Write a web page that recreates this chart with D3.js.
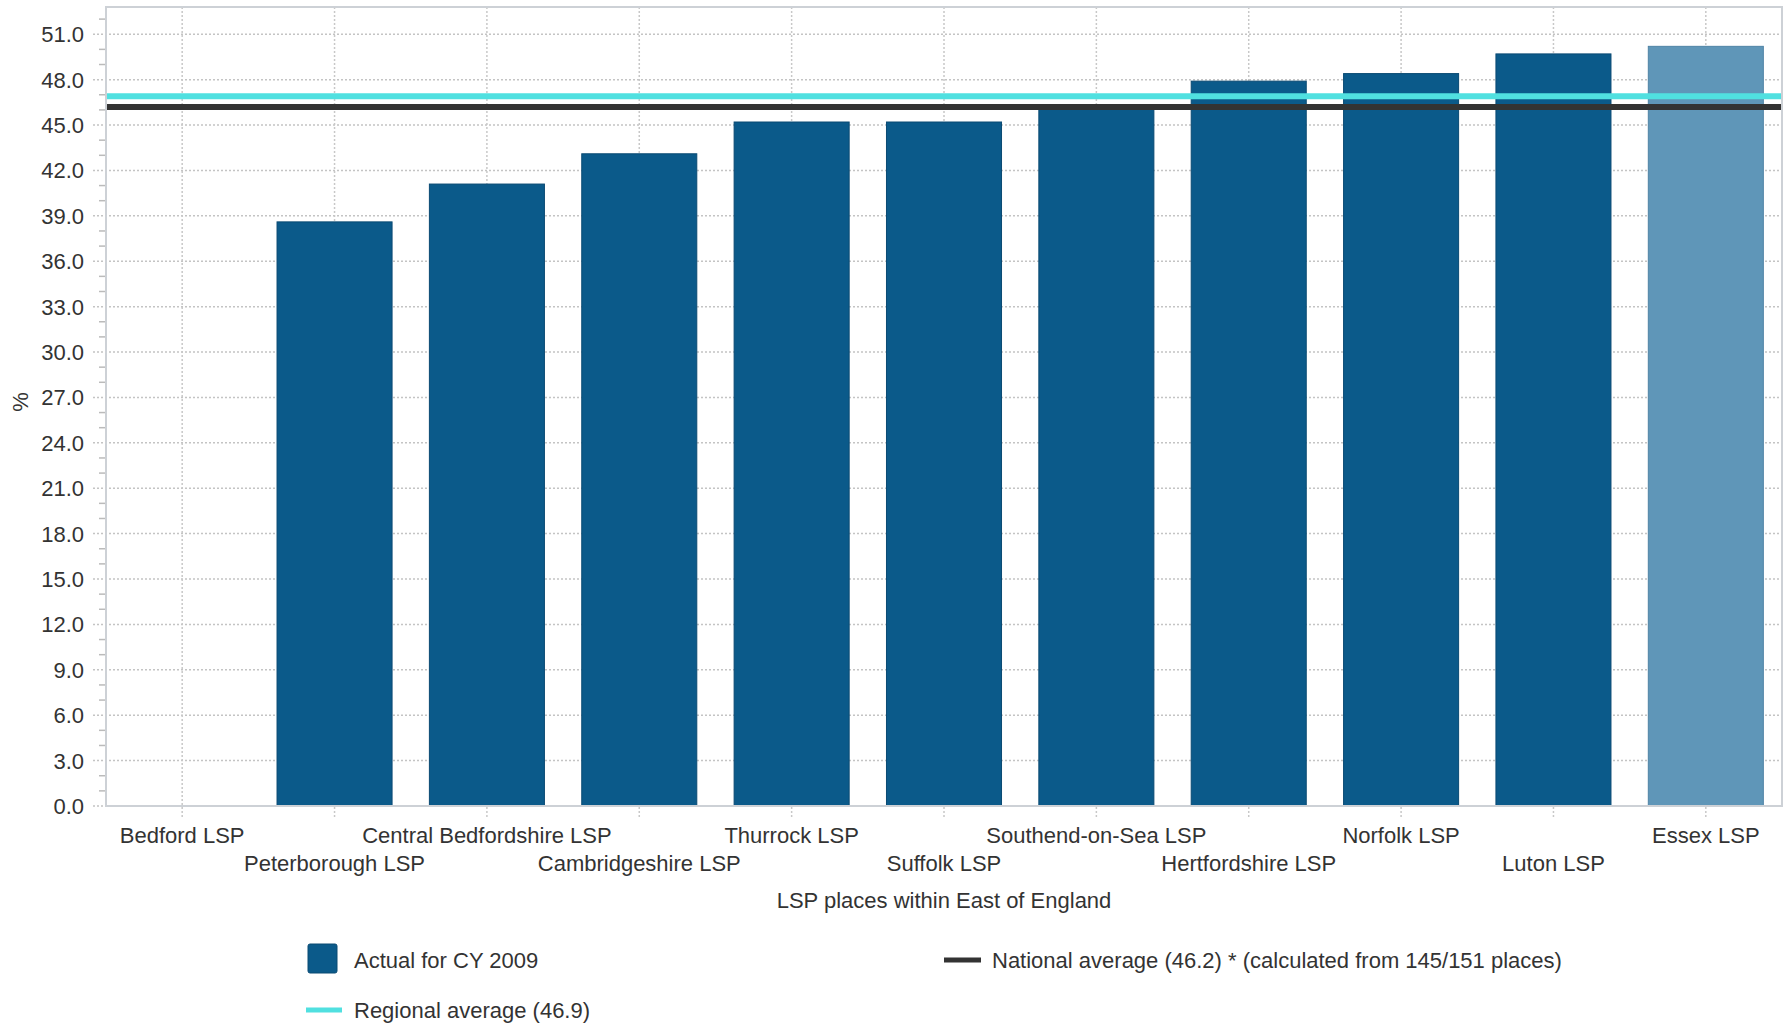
<!DOCTYPE html>
<html>
<head>
<meta charset="utf-8">
<script src="https://cdn.jsdelivr.net/npm/d3@7"></script>
<style>
  html, body { margin: 0; padding: 0; background: #fff; }
  svg { display: block; font-family: "Liberation Sans", Arial, sans-serif; }
</style>
</head>
<body>
<svg id="chart" width="1790" height="1025"></svg>
<script>
// ---- Data ----
const categories = ["Bedford LSP", "Peterborough LSP", "Central Bedfordshire LSP", "Cambridgeshire LSP",
  "Thurrock LSP", "Suffolk LSP", "Southend-on-Sea LSP", "Hertfordshire LSP", "Norfolk LSP", "Luton LSP", "Essex LSP"];
const values = [null, 38.6, 41.1, 43.1, 45.2, 45.2, 46.1, 47.9, 48.4, 49.7, 50.2];
const highlighted = ["Essex LSP"];
const regionalAverage = 46.9;
const nationalAverage = 46.2;
const yTicks = [0, 3, 6, 9, 12, 15, 18, 21, 24, 27, 30, 33, 36, 39, 42, 45, 48, 51];
const yMinorTicks = [1, 2, 4, 5, 7, 8, 10, 11, 13, 14, 16, 17, 19, 20, 22, 23, 25, 26, 28, 29, 31, 32, 34, 35, 37, 38, 40, 41, 43, 44, 46, 47, 49, 50, 52];
const yMax = 52.8;
const xTitle = "LSP places within East of England";
const yTitle = "%";
const legendActual = "Actual for CY 2009";
const legendRegional = "Regional average (46.9)";
const legendNational = "National average (46.2) * (calculated from 145/151 places)";

// ---- Layout ----
const L = 106, R = 1782, T = 7, B = 806;
const svg = d3.select("#chart");
const textColor = "#333";
const fontSize = 22;

const x = d3.scaleBand().domain(categories).range([L, R]).paddingInner(0.245).paddingOuter(0.1225);
const y = d3.scaleLinear().domain([0, yMax]).range([B, T]);

// horizontal gridlines (dotted, extending left of axis)
svg.append("g").selectAll("line").data(yTicks).join("line")
  .attr("x1", L - 13).attr("x2", R)
  .attr("y1", d => y(d)).attr("y2", d => y(d))
  .attr("stroke", "#c4c4c4").attr("stroke-width", 1.5).attr("stroke-dasharray", "2,2");

// vertical gridlines at category centers
svg.append("g").selectAll("line").data(categories).join("line")
  .attr("x1", d => x(d) + x.bandwidth() / 2).attr("x2", d => x(d) + x.bandwidth() / 2)
  .attr("y1", T).attr("y2", B + 12)
  .attr("stroke", "#c8c8c8").attr("stroke-width", 1.5).attr("stroke-dasharray", "2,2");

// minor ticks
svg.append("g").selectAll("line").data(yMinorTicks.filter(d => d <= yMax)).join("line")
  .attr("x1", L - 7).attr("x2", L)
  .attr("y1", d => y(d)).attr("y2", d => y(d))
  .attr("stroke", "#bbb").attr("stroke-width", 1.5);

// bars
const data = categories.map((c, i) => ({ c, v: values[i] })).filter(d => d.v != null);
svg.append("g").selectAll("rect").data(data).join("rect")
  .attr("x", d => x(d.c)).attr("width", x.bandwidth())
  .attr("y", d => y(d.v)).attr("height", d => y(0) - y(d.v))
  .attr("fill", d => highlighted.includes(d.c) ? "#5f96b8" : "#0b5a8a")
  .attr("stroke", d => highlighted.includes(d.c) ? "#4f83a6" : "#0a4a73")
  .attr("stroke-width", 1);

// average lines
svg.append("line").attr("x1", L).attr("x2", R)
  .attr("y1", y(regionalAverage)).attr("y2", y(regionalAverage))
  .attr("stroke", "#50e0e0").attr("stroke-width", 6);
svg.append("line").attr("x1", L).attr("x2", R)
  .attr("y1", y(nationalAverage)).attr("y2", y(nationalAverage))
  .attr("stroke", "#333").attr("stroke-width", 6);

// plot border
svg.append("rect").attr("x", L).attr("y", T).attr("width", R - L).attr("height", B - T)
  .attr("fill", "none").attr("stroke", "#cdd1d6").attr("stroke-width", 2);

// y tick labels
svg.append("g").selectAll("text").data(yTicks).join("text")
  .attr("x", 84).attr("y", d => y(d)).attr("dy", "0.36em")
  .attr("text-anchor", "end").attr("font-size", fontSize).attr("fill", textColor)
  .text(d => d3.format(".1f")(d));

// x labels (staggered rows)
svg.append("g").selectAll("text").data(categories).join("text")
  .attr("x", d => x(d) + x.bandwidth() / 2)
  .attr("y", (d, i) => i % 2 === 0 ? 843 : 871)
  .attr("text-anchor", "middle").attr("font-size", fontSize).attr("fill", textColor)
  .text(d => d);

// axis titles
svg.append("text").attr("x", (L + R) / 2).attr("y", 908)
  .attr("text-anchor", "middle").attr("font-size", fontSize).attr("fill", textColor).text(xTitle);
svg.append("text").attr("transform", "translate(28,402) rotate(-90)")
  .attr("text-anchor", "middle").attr("font-size", fontSize).attr("fill", textColor).text(yTitle);

// legend
const lg = svg.append("g");
lg.append("rect").attr("x", 308).attr("y", 944).attr("width", 29).attr("height", 29).attr("rx", 2)
  .attr("fill", "#0b5a8a").attr("stroke", "#0a4a73").attr("stroke-width", 1);
lg.append("text").attr("x", 354).attr("y", 968).attr("font-size", fontSize).attr("fill", textColor).text(legendActual);
lg.append("line").attr("x1", 306).attr("x2", 342).attr("y1", 1010).attr("y2", 1010)
  .attr("stroke", "#50e0e0").attr("stroke-width", 5);
lg.append("text").attr("x", 354).attr("y", 1018).attr("font-size", fontSize).attr("fill", textColor).text(legendRegional);
lg.append("line").attr("x1", 944).attr("x2", 981).attr("y1", 960).attr("y2", 960)
  .attr("stroke", "#333").attr("stroke-width", 5);
lg.append("text").attr("x", 992).attr("y", 968).attr("font-size", fontSize).attr("fill", textColor).text(legendNational);
</script>
</body>
</html>
